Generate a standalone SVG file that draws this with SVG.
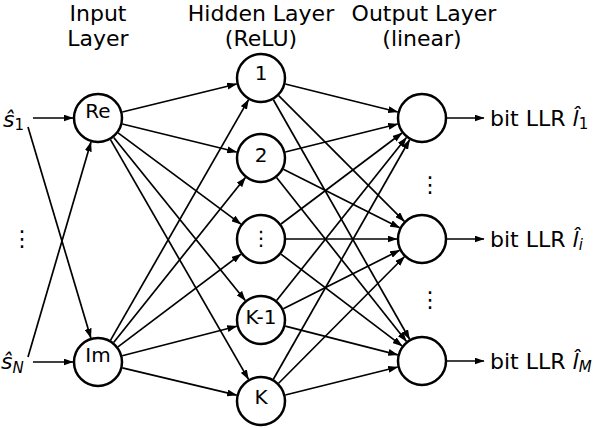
<svg xmlns="http://www.w3.org/2000/svg" width="594" height="428" viewBox="0 0 594 428">
<defs>
<marker id="ah" markerUnits="userSpaceOnUse" markerWidth="10" markerHeight="7" viewBox="0 0 10 7" refX="9.5" refY="3.5" orient="auto">
<path d="M0,0 L10,3.5 L0,7 z" fill="#000"/>
</marker>
</defs>
<style>
text{font-family:"DejaVu Sans","Liberation Sans",sans-serif;fill:#000}
.hd{font-size:22px;text-anchor:middle}
.nl{font-size:20px;text-anchor:middle}
.lb{font-size:22px}
.it{font-style:italic}
.sub{font-size:15px}
.node{fill:#fff;stroke:#000;stroke-width:2.5}
.e{stroke:#000;stroke-width:1.7;fill:none;marker-end:url(#ah)}
</style>
<rect width="594" height="428" fill="#fff"/>

<g id="headers">
<text class="hd" x="98" y="21">Input</text>
<text class="hd" x="98" y="46">Layer</text>
<text class="hd" x="261" y="21">Hidden Layer</text>
<text class="hd" x="261" y="46">(ReLU)</text>
<text class="hd" x="424" y="21">Output Layer</text>
<text class="hd" x="422" y="46">(linear)</text>
</g>

<g id="connectors">
<line class="e" x1="33" y1="118" x2="73" y2="118"/>
<line class="e" x1="33" y1="362" x2="73" y2="362"/>
<line class="e" x1="28" y1="127" x2="90.86" y2="338.04"/>
<line class="e" x1="28" y1="357" x2="90.97" y2="141.99"/>

<line class="e" x1="122.28" y1="112.04" x2="236.72" y2="83.96"/>
<line class="e" x1="122.28" y1="123.96" x2="236.72" y2="152.04"/>
<line class="e" x1="118.07" y1="132.90" x2="240.93" y2="224.10"/>
<line class="e" x1="113.70" y1="137.46" x2="245.30" y2="300.54"/>
<line class="e" x1="110.48" y1="139.66" x2="248.52" y2="379.34"/>

<line class="e" x1="110.45" y1="340.32" x2="248.55" y2="99.68"/>
<line class="e" x1="113.61" y1="342.47" x2="245.39" y2="177.53"/>
<line class="e" x1="117.96" y1="346.94" x2="241.04" y2="254.06"/>
<line class="e" x1="122.21" y1="355.76" x2="236.79" y2="326.24"/>
<line class="e" x1="122.31" y1="367.82" x2="236.69" y2="395.18"/>

<line class="e" x1="285.26" y1="84.03" x2="397.74" y2="111.97"/>
<line class="e" x1="278.68" y1="95.68" x2="404.32" y2="221.32"/>
<line class="e" x1="273.36" y1="99.73" x2="409.64" y2="339.27"/>

<line class="e" x1="285.26" y1="151.97" x2="397.74" y2="124.03"/>
<line class="e" x1="283.33" y1="169.24" x2="399.67" y2="227.76"/>
<line class="e" x1="276.53" y1="177.59" x2="406.47" y2="341.41"/>

<line class="e" x1="280.99" y1="223.98" x2="402.01" y2="133.02"/>
<line class="e" x1="286" y1="239" x2="397" y2="239"/>
<line class="e" x1="280.93" y1="254.10" x2="402.07" y2="345.90"/>

<line class="e" x1="276.58" y1="300.45" x2="406.42" y2="137.55"/>
<line class="e" x1="283.33" y1="308.76" x2="399.67" y2="250.24"/>
<line class="e" x1="285.23" y1="326.17" x2="397.77" y2="354.83"/>

<line class="e" x1="273.36" y1="379.27" x2="409.64" y2="139.73"/>
<line class="e" x1="278.62" y1="383.27" x2="404.38" y2="256.73"/>
<line class="e" x1="285.26" y1="394.97" x2="397.74" y2="367.03"/>

<line class="e" x1="447" y1="118" x2="484" y2="118"/>
<line class="e" x1="447" y1="239" x2="484" y2="239"/>
<line class="e" x1="447" y1="361" x2="484" y2="361"/>
</g>

<g id="in-labels">
<text class="lb" x="3" y="127"><tspan class="it">ŝ</tspan><tspan class="sub" dy="3">1</tspan></text>
<text class="lb" x="11" y="246">⋮</text>
<text class="lb" x="1" y="369"><tspan class="it">ŝ</tspan><tspan class="sub it" dy="4">N</tspan></text>
</g>

<g id="node-re"><circle class="node" cx="98" cy="118" r="24"/><text class="nl" x="98" y="118">Re</text></g>
<g id="node-im"><circle class="node" cx="98" cy="362" r="24"/><text class="nl" x="98" y="362">Im</text></g>

<g id="node-h1"><circle class="node" cx="261" cy="78" r="24"/><text class="nl" x="261" y="80">1</text></g>
<g id="node-h2"><circle class="node" cx="261" cy="158" r="24"/><text class="nl" x="261" y="162">2</text></g>
<g id="node-h3"><circle class="node" cx="261" cy="239" r="24"/><text class="nl" x="261" y="245">⋮</text></g>
<g id="node-h4"><circle class="node" cx="261" cy="320" r="24"/><text class="nl" x="261" y="324">K-1</text></g>
<g id="node-h5"><circle class="node" cx="261" cy="401" r="24"/><text class="nl" x="261" y="404">K</text></g>

<g id="node-o1"><circle class="node" cx="422" cy="118" r="24"/></g>
<g id="node-o2"><circle class="node" cx="422" cy="239" r="24"/></g>
<g id="node-o3"><circle class="node" cx="422" cy="361" r="24"/></g>

<g id="out-dots">
<text class="lb" x="419" y="192">⋮</text>
<text class="lb" x="419" y="307">⋮</text>
</g>

<g id="out-labels">
<text class="lb" x="490" y="126">bit LLR <tspan class="it">l̂</tspan><tspan class="sub" dy="3">1</tspan></text>
<text class="lb" x="490" y="247">bit LLR <tspan class="it">l̂</tspan><tspan class="sub it" dy="3">i</tspan></text>
<text class="lb" x="490" y="369">bit LLR <tspan class="it">l̂</tspan><tspan class="sub it" dy="3">M</tspan></text>
</g>
</svg>
